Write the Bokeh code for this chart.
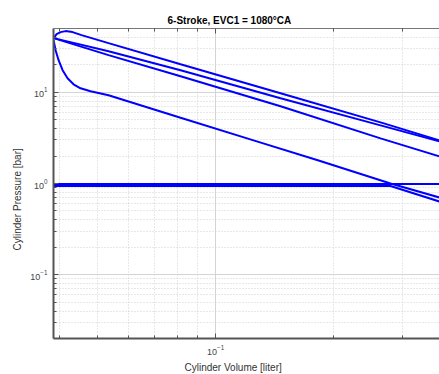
from bokeh.plotting import figure
from bokeh.models import (LogAxis, FixedTicker, Title, Range1d, LogTickFormatter,
                          LogTicker, CustomJSTickFormatter)
from bokeh.embed import file_html
from bokeh.resources import INLINE

# ---- data (volume [liter], pressure [bar]) ----
v_fire = [0.03862, 0.03931, 0.04024, 0.04143, 0.04317, 0.04551, 0.05333, 0.08143, 0.1465, 0.2636, 0.3727]
p_fire = [39.22, 43.40, 45.65, 46.81, 45.65, 42.32, 34.55, 20.31, 9.75, 4.68, 2.97]

v_exp2 = [0.03862, 0.04317, 0.05333, 0.08143, 0.1465, 0.2636, 0.3727]
p_exp2 = [39.22, 35.0, 28.22, 17.45, 8.59, 4.34, 2.89]

v_comp2 = [0.03862, 0.05333, 0.08143, 0.1465, 0.2636, 0.3727]
p_comp2 = [39.22, 25.51, 14.99, 7.02, 3.12, 1.98]

v_comp1 = [0.03862, 0.03908, 0.03977, 0.04072, 0.04192, 0.04342, 0.04524, 0.04799, 0.05333,
           0.08143, 0.1250, 0.1832, 0.2795, 0.3727]
p_comp1 = [37.28, 28.94, 22.46, 17.45, 14.25, 12.24, 11.06, 10.26, 9.27,
           5.25, 2.97, 1.79, 1.00, 0.702]

v_exh = [0.03862, 0.3727]
p_exh = [0.99, 0.99]

v_int = [0.03862, 0.2795, 0.3727]
p_int = [0.939, 0.939, 0.634]

x_major = [0.1]
x_minor = [0.04, 0.05, 0.06, 0.07, 0.08, 0.09, 0.2, 0.3]
y_major = [0.1, 1, 10]
y_minor = [0.02, 0.03, 0.04, 0.05, 0.06, 0.07, 0.08, 0.09,
           0.2, 0.3, 0.4, 0.5, 0.6, 0.7, 0.8, 0.9,
           2, 3, 4, 5, 6, 7, 8, 9, 20, 30, 40]

FONT = "Liberation Sans"

p = figure(width=439, height=374, x_axis_type="log", y_axis_type="log",
           x_range=Range1d(0.0386, 0.3727), y_range=Range1d(0.02, 50),
           output_backend="svg", toolbar_location=None,
           min_border_left=53, min_border_right=0, min_border_top=28, min_border_bottom=36,
           outline_line_color=None, background_fill_color="white",
           border_fill_color="white")

p.title = Title(text="6-Stroke, EVC1 = 1080\u00b0CA", align="left", offset=114,
                text_font=FONT, text_font_size="10px", text_font_style="bold",
                text_color="black", standoff=6)

xt = FixedTicker(ticks=x_major, minor_ticks=x_minor)
yt = FixedTicker(ticks=y_major, minor_ticks=y_minor)

for ax, t in ((p.xaxis[0], xt), (p.yaxis[0], yt)):
    ax.ticker = t
    ax.formatter = LogTickFormatter(ticker=LogTicker())
    ax.axis_line_color = "#555555"
    ax.axis_line_width = 2
    ax.major_tick_in = 5
    ax.major_tick_out = 0
    ax.minor_tick_in = 3
    ax.minor_tick_out = 0
    ax.major_tick_line_color = "#555555"
    ax.minor_tick_line_color = "#555555"
    ax.major_label_text_font = FONT
    ax.major_label_text_font_size = "9px"
    ax.major_label_text_color = "#444444"
    ax.major_label_standoff = 6

top = LogAxis(ticker=FixedTicker(ticks=x_major, minor_ticks=x_minor),
              formatter=CustomJSTickFormatter(code="return ' '"),
              axis_line_color="#777777", axis_line_width=1,
              major_tick_in=5, major_tick_out=0, minor_tick_in=3, minor_tick_out=0,
              major_tick_line_color="#555555", minor_tick_line_color="#555555",
              major_label_text_font_size="2px", major_label_text_alpha=0,
              major_label_standoff=0)
p.add_layout(top, "above")

p.add_layout(Title(text="Cylinder Volume [liter]", align="left", offset=131,
                   text_font=FONT, text_font_size="10px", text_font_style="normal",
                   text_color="#333333", standoff=4), "below")
p.add_layout(Title(text="Cylinder Pressure [bar]", align="left", offset=88,
                   text_font=FONT, text_font_size="10px", text_font_style="normal",
                   text_color="#333333", standoff=9), "left")

for g in (p.xgrid[0], p.ygrid[0]):
    g.grid_line_color = "#d4d4d4"
    g.grid_line_width = 1
    g.minor_grid_line_color = "#d0d0d0"
    g.minor_grid_line_dash = "1 2"
    g.minor_grid_line_width = 1
p.xgrid[0].ticker = xt
p.ygrid[0].ticker = yt

BLUE = "#0000ff"
for vx, py in ((v_fire, p_fire), (v_exp2, p_exp2), (v_comp2, p_comp2),
               (v_comp1, p_comp1), (v_exh, p_exh), (v_int, p_int)):
    p.line(vx, py, line_color=BLUE, line_width=2)

open("out.html", "w").write(file_html(p, INLINE))
